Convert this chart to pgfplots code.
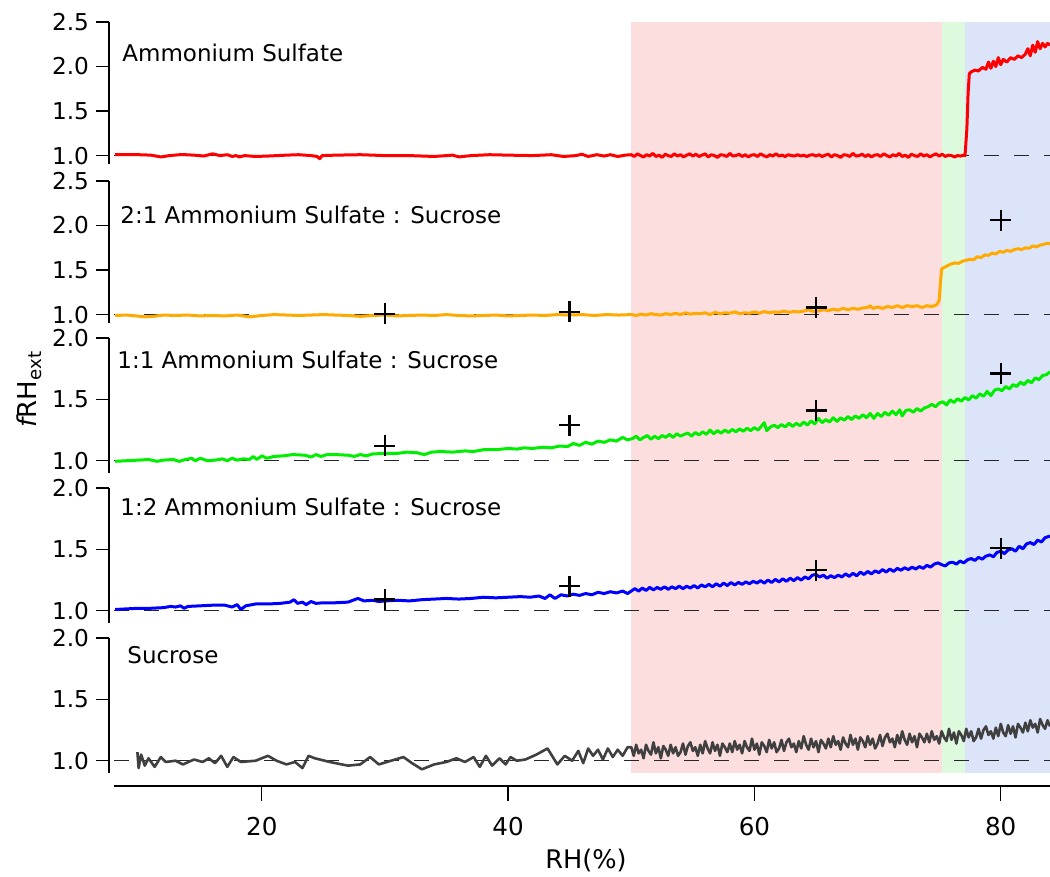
\documentclass[border=0pt]{standalone}
\usepackage{fontspec}
\setmainfont{DejaVu Sans}
\usepackage{pgfplots}
\pgfplotsset{compat=1.18}

\definecolor{shadeA}{RGB}{253,222,222}
\definecolor{shadeB}{RGB}{222,250,222}
\definecolor{shadeC}{RGB}{220,228,249}
\definecolor{cAS}{RGB}{255,0,0}
\definecolor{cTwoOne}{RGB}{255,170,0}
\definecolor{cOneOne}{RGB}{0,238,0}
\definecolor{cOneTwo}{RGB}{0,0,255}
\definecolor{cSuc}{RGB}{64,64,64}

\newcommand{\ytickfont}{\fontsize{11.6}{14}\selectfont}

\pgfplotsset{
  panel/.style={scale only axis, width=468pt, xmin=8, xmax=84, ymin=0.9,
    axis x line=none, axis y line=left, axis y line shift=2.5pt,
    axis line style={-, line width=0.7pt},
    tick align=outside, major tick length=6.5pt,
    tick style={line width=0.7pt, black},
    tick label style={font=\ytickfont},
  },
  tall/.style={height=71.25pt, ymax=2.5, ytick={1,1.5,2,2.5},
    yticklabels={{\ytickfont 1.0},{\ytickfont 1.5},{\ytickfont 2.0},{\ytickfont 2.5}}},
  short/.style={height=67.5pt, ymax=2.0, ytick={1,1.5,2},
    yticklabels={{\ytickfont 1.0},{\ytickfont 1.5},{\ytickfont 2.0}}},
  unity/.style={black!85, line width=0.6pt, dash pattern=on 7.5pt off 7.5pt, forget plot},
  trace/.style={line width=1.5pt, line join=round, no marks},
  model/.style={only marks, mark=+, mark size=5.25pt, mark options={line width=1.2pt, black}},
}

\begin{document}
\begin{tikzpicture}
\path[use as bounding box] (0,0) rectangle (525pt,-438.5pt);

% shared RH axis with the deliquescence regions behind all panels
\begin{axis}[scale only axis, width=468pt, height=382pt, at={(57pt,-393pt)}, anchor=south west,
  xmin=8, xmax=84, ymin=-13, ymax=751,
  axis x line=bottom, axis y line=none, axis line style={-, line width=0.7pt},
  tick align=outside, major tick length=7.5pt, tick style={line width=0.7pt, black},
  xtick={20,40,60,80}, xticklabels={\mbox{20},\mbox{40},\mbox{60},\mbox{80}}, ytick=\empty,
  xticklabel style={font=\fontsize{12.3}{15}\selectfont, yshift=-4.5pt}]
\addplot[draw=none, fill=shadeA] coordinates {(50,0) (75.2,0) (75.2,751) (50,751)} -- cycle;
\addplot[draw=none, fill=shadeB] coordinates {(75.2,0) (77.1,0) (77.1,751) (75.2,751)} -- cycle;
\addplot[draw=none, fill=shadeC] coordinates {(77.1,0) (84,0) (84,751) (77.1,751)} -- cycle;
\end{axis}

% Ammonium sulfate
\begin{axis}[panel, tall, at={(57pt,-82.25pt)}, anchor=south west]
\addplot[unity] coordinates {(8,1) (84,1)};
\addplot[trace, cAS] coordinates {
(8.1,1.01)(9,1.012)(10,1.01)(11,1.005)(11.8,0.985)(12.5,1.0)(13.5,1.012)(14.5,1.005)(15.3,0.995)(16,1.02)(16.6,1.0)(17.2,1.01)(17.6,0.99)(17.9,1.0)(18.2,0.985)(18.6,1.0)(19.5,0.99)(20.5,0.995)(22,1.005)(23,1.01)(24,1.0)(24.5,0.99)(24.7,0.965)(24.9,1.0)(26,1.005)(28,1.01)(30,1.0)(32,1.0)(34,0.99)(35.5,1.005)(36,0.985)(37,1.0)(38.5,1.01)(40,1.005)(42,1.0)(43.5,1.01)(44.5,0.99)(45.5,1.0)(46,1.015)(46.5,0.99)(47.2,1.01)(47.8,0.995)(48.3,1.01)(48.9,0.99)(49.5,1.005)
(50.0,1.01)(50.25,0.99)(50.5,1.02)(50.75,1.0)(51.0,0.985)(51.25,1.01)(51.5,0.995)(51.75,1.025)(52.0,0.99)(52.25,1.005)(52.5,0.98)(52.75,1.015)(53.0,1.0)(53.25,0.99)(53.5,1.02)(53.75,0.995)(54.0,1.01)(54.25,0.985)(54.5,1.005)(54.75,1.02)
(55.0,0.995)(55.25,1.015)(55.5,0.99)(55.75,1.005)(56.0,1.02)(56.25,0.985)(56.5,1.01)(56.75,1.0)(57.0,0.98)(57.25,1.01)(57.5,1.005)(57.75,0.99)(58.0,1.025)(58.25,0.995)(58.5,1.0)(58.75,1.015)(59.0,0.99)(59.25,1.01)(59.5,0.985)(59.75,1.005)
(60.0,1.01)(60.25,0.99)(60.5,1.02)(60.75,1.0)(61.0,0.985)(61.25,1.01)(61.5,0.995)(61.75,1.02)(62.0,0.995)(62.25,1.005)(62.5,0.99)(62.75,1.01)(63.0,1.0)(63.25,0.995)(63.5,1.01)(63.75,0.995)(64.0,1.005)(64.25,0.99)(64.5,1.005)(64.75,1.01)
(65.0,0.995)(65.25,1.01)(65.5,0.99)(65.75,1.005)(66.0,1.015)(66.25,0.985)(66.5,1.01)(66.75,1.0)(67.0,0.98)(67.25,1.01)(67.5,1.005)(67.75,0.99)(68.0,1.025)(68.25,0.995)(68.5,1.0)(68.75,1.015)(69.0,0.99)(69.25,1.01)(69.5,0.985)(69.75,1.005)
(70.0,1.01)(70.25,0.99)(70.5,1.02)(70.75,1.0)(71.0,0.985)(71.25,1.01)(71.5,0.995)(71.75,1.025)(72.0,0.99)(72.25,1.005)(72.5,0.98)(72.75,1.015)(73.0,1.0)(73.25,0.99)(73.5,1.02)(73.75,0.995)(74.0,1.01)(74.25,0.985)(74.5,1.005)(74.75,1.02)
(75.0,0.995)(75.25,1.015)(75.5,0.99)(75.75,1.005)(76.0,1.0)(76.25,0.985)(76.5,1.0)(76.75,0.995)(77.0,1.005)(77.1,1.0)
(77.25,1.3)(77.35,1.7)(77.45,1.92)(77.6,1.94)(77.9,1.96)(78.2,1.95)(78.5,1.99)(78.8,1.97)(79.0,2.05)(79.2,1.98)(79.4,2.06)(79.6,2.0)(79.8,2.1)(80.0,2.02)(80.2,2.08)(80.5,2.05)(80.8,2.1)(81.1,2.08)(81.4,2.12)(81.7,2.1)(82.0,2.14)(82.2,2.2)(82.4,2.12)(82.6,2.24)(82.8,2.16)(83.0,2.28)(83.2,2.2)(83.4,2.26)(83.6,2.22)(83.8,2.26)(84.0,2.24)};
\end{axis}

% 2:1 ammonium sulfate : sucrose
\begin{axis}[panel, tall, at={(57pt,-161.75pt)}, anchor=south west]
\addplot[unity] coordinates {(8,1) (84,1)};
\addplot[trace, cTwoOne] coordinates {
(8.1,0.99)(9,0.995)(9.8,0.985)(10.5,0.975)(11.2,0.98)(12,0.995)(13,0.99)(14,0.995)(15,0.985)(16,0.99)(17,0.985)(18,0.995)(19,0.975)(20,0.99)(21,1.0)(22,0.995)(23,0.99)(24,0.995)(25,1.0)(26,0.995)(27,0.99)(28,0.98)(29,0.99)(30,0.995)(31,0.985)(32,0.99)(33,0.995)(34,0.99)(35,1.0)(36,0.99)(37,0.985)(38,0.99)(39,0.995)(40,0.985)(41,0.99)(42,0.995)(43,0.99)(44,1.0)(45,0.995)(46,1.0)(47,0.99)(48,1.0)(49,0.995)
(50.0,1.0)(50.4,0.99)(50.8,1.005)(51.2,0.995)(51.6,1.01)(52.0,1.0)(52.4,0.995)(52.8,1.01)(53.2,1.0)(53.6,1.015)(54.0,1.0)(54.4,1.02)(54.8,1.005)(55.2,1.015)(55.6,1.01)(56.0,1.02)(56.4,1.0)(56.8,1.025)(57.2,1.01)(57.6,1.02)(58.0,1.015)(58.4,1.03)(58.8,1.01)(59.2,1.02)(59.6,1.015)(60.0,1.03)(60.4,1.015)(60.8,1.035)(61.2,1.02)(61.6,1.03)(62.0,1.025)(62.4,1.04)(62.8,1.025)(63.2,1.035)(63.6,1.03)(64.0,1.04)(64.4,1.055)(64.8,1.035)(65.2,1.04)(65.6,1.055)(66.0,1.045)(66.4,1.06)(66.8,1.05)(67.2,1.07)(67.6,1.055)(68.0,1.07)(68.4,1.06)(68.8,1.075)(69.2,1.08)(69.4,1.1)(69.6,1.07)(70.0,1.085)(70.4,1.07)(70.8,1.09)(71.2,1.08)(71.6,1.1)(72.0,1.08)(72.4,1.1)(72.8,1.09)(73.2,1.1)(73.6,1.08)(74.0,1.1)(74.4,1.09)(74.8,1.11)(75.0,1.16)(75.1,1.35)(75.2,1.51)(75.4,1.53)(75.7,1.55)(76.0,1.57)(76.3,1.58)(76.6,1.575)(76.9,1.6)(77.2,1.61)(77.5,1.62)(77.8,1.615)(78.1,1.65)(78.4,1.64)(78.7,1.67)(79.0,1.665)(79.3,1.69)(79.6,1.68)(79.9,1.71)(80.2,1.7)(80.5,1.72)(80.8,1.71)(81.1,1.73)(81.4,1.74)(81.7,1.73)(82.0,1.75)(82.3,1.745)(82.6,1.77)(82.9,1.76)(83.2,1.78)(83.5,1.79)(83.8,1.8)(84.0,1.795)};
\addplot[model] coordinates {(30,1.01) (45,1.03) (65,1.08) (80,2.06)};
\end{axis}

% 1:1 ammonium sulfate : sucrose
\begin{axis}[panel, short, at={(57pt,-236.5pt)}, anchor=south west]
\addplot[unity] coordinates {(8,1) (84,1)};
\addplot[trace, cOneOne] coordinates {
(8.1,0.995)(9,1.0)(10,1.005)(10.8,1.01)(11.5,0.995)(12,1.005)(12.8,1.01)(13.3,0.995)(13.8,1.01)(14.3,1.02)(14.6,1.0)(15,1.02)(15.6,1.0)(16.2,1.005)(16.8,1.015)(17.2,1.0)(17.6,1.02)(18,1.005)(18.5,1.015)(19,1.01)(19.3,1.035)(19.6,1.01)(20,1.04)(20.4,1.02)(21,1.035)(21.8,1.04)(22.5,1.05)(23.5,1.045)(24,1.03)(24.4,1.05)(24.8,1.035)(25.3,1.05)(26,1.05)(27,1.045)(27.5,1.035)(28,1.05)(28.5,1.04)(29,1.055)(30,1.06)(31,1.06)(31.8,1.07)(32.6,1.065)(33.2,1.05)(33.8,1.07)(34.5,1.075)(35.5,1.07)(36.5,1.08)(37.2,1.075)(38,1.09)(39,1.09)(40,1.1)(40.7,1.095)(41.3,1.105)(42,1.1)(42.8,1.11)(43.5,1.105)(44.2,1.12)(44.8,1.115)(45.3,1.14)(45.8,1.125)(46.3,1.15)(46.8,1.135)(47.3,1.16)(47.8,1.15)(48.3,1.17)(48.8,1.16)(49.3,1.19)(49.7,1.17)
(50.1,1.18)(50.4,1.2)(50.7,1.17)(51.0,1.19)(51.3,1.205)(51.6,1.175)(51.9,1.2)(52.2,1.18)(52.5,1.205)(52.8,1.19)(53.1,1.215)(53.4,1.19)(53.7,1.22)(54.0,1.2)(54.3,1.215)(54.6,1.225)(54.9,1.2)(55.2,1.23)(55.5,1.21)(55.8,1.235)(56.1,1.215)(56.4,1.25)(56.7,1.22)(57.0,1.245)(57.3,1.225)(57.6,1.25)(57.9,1.23)(58.2,1.255)(58.5,1.235)(58.8,1.26)(59.1,1.24)(59.4,1.265)(59.7,1.245)(60.0,1.27)(60.3,1.25)(60.6,1.285)(60.8,1.31)(61.0,1.245)(61.3,1.275)(61.6,1.29)(61.9,1.27)(62.2,1.295)(62.5,1.275)(62.8,1.305)(63.1,1.28)(63.4,1.305)(63.7,1.285)(64.0,1.315)(64.3,1.29)(64.6,1.325)(64.9,1.3)(65.2,1.345)(65.5,1.31)(65.8,1.335)(66.1,1.315)(66.4,1.35)(66.7,1.32)(67.0,1.35)(67.3,1.33)(67.6,1.36)(67.9,1.335)(68.2,1.365)(68.5,1.345)(68.8,1.375)(69.1,1.35)(69.4,1.385)(69.7,1.345)(70.0,1.385)(70.3,1.36)(70.6,1.395)(70.9,1.37)(71.2,1.405)(71.5,1.375)(71.8,1.415)(72.0,1.365)(72.3,1.41)(72.6,1.415)(72.9,1.395)(73.2,1.425)(73.5,1.405)(73.8,1.43)
(74.1,1.44)(74.4,1.46)(74.7,1.44)(75.0,1.47)(75.3,1.48)(75.6,1.455)(75.9,1.495)(76.2,1.475)(76.5,1.505)(76.8,1.485)(77.1,1.515)(77.4,1.495)(77.7,1.53)(78.0,1.51)(78.3,1.545)(78.6,1.525)(78.9,1.565)(79.2,1.53)(79.5,1.575)(79.8,1.585)(80.1,1.57)(80.4,1.605)(80.7,1.585)(81.0,1.62)(81.3,1.605)(81.6,1.64)(81.9,1.62)(82.2,1.655)(82.5,1.635)(82.8,1.675)(83.1,1.66)(83.4,1.695)(83.7,1.7)(84.0,1.725)};
\addplot[model] coordinates {(30,1.12) (45,1.29) (65,1.41) (80,1.71)};
\end{axis}

% 1:2 ammonium sulfate : sucrose
\begin{axis}[panel, short, at={(57pt,-311.5pt)}, anchor=south west]
\addplot[unity] coordinates {(8,1) (84,1)};
\addplot[trace, cOneTwo] coordinates {
(8.1,1.01)(9,1.015)(10,1.02)(11,1.02)(12,1.025)(12.6,1.035)(13,1.03)(13.4,1.04)(13.7,1.02)(14,1.035)(15,1.04)(16,1.045)(17,1.045)(17.6,1.03)(18,1.05)(18.3,1.01)(18.7,1.04)(19.5,1.055)(20.5,1.055)(21.5,1.06)(22.3,1.07)(22.6,1.09)(22.9,1.06)(23.3,1.07)(23.6,1.05)(24,1.075)(24.4,1.06)(25,1.065)(26,1.065)(27,1.07)(27.8,1.1)(28.3,1.08)(29,1.085)(29.5,1.075)(30,1.08)(31,1.085)(32,1.08)(33,1.09)(34,1.095)(35,1.1)(36,1.095)(37,1.1)(38,1.11)(39,1.105)(40,1.11)(41,1.115)(41.8,1.11)(42.5,1.12)(43,1.1)(43.4,1.13)(43.8,1.1)(44.3,1.13)(44.8,1.12)(45.3,1.135)(45.8,1.125)(46.3,1.14)(46.8,1.13)(47.3,1.15)(47.8,1.14)(48.3,1.155)(48.8,1.145)(49.3,1.16)(49.7,1.14)
(50.0,1.16)(50.3,1.18)(50.6,1.16)(50.9,1.185)(51.2,1.165)(51.5,1.19)(51.8,1.17)(52.1,1.19)(52.4,1.175)(52.7,1.195)(53.0,1.175)(53.3,1.195)(53.6,1.18)(53.9,1.2)(54.2,1.18)(54.5,1.2)(54.8,1.185)(55.1,1.205)(55.4,1.185)(55.7,1.21)(56.0,1.195)(56.3,1.215)(56.6,1.195)(56.9,1.22)(57.2,1.2)(57.5,1.225)(57.8,1.205)(58.1,1.23)(58.4,1.21)(58.7,1.23)(59.0,1.215)(59.3,1.235)(59.6,1.22)(59.9,1.24)(60.2,1.225)(60.5,1.245)(60.8,1.225)(61.1,1.25)(61.4,1.23)(61.7,1.255)(62.0,1.235)(62.3,1.26)(62.6,1.24)(62.9,1.265)(63.2,1.245)(63.5,1.27)(63.8,1.25)(64.1,1.275)(64.4,1.26)(64.7,1.29)(65.0,1.295)(65.3,1.275)(65.6,1.29)(65.9,1.265)(66.2,1.285)(66.5,1.27)(66.8,1.29)(67.1,1.275)(67.4,1.3)(67.7,1.28)(68.0,1.305)(68.3,1.285)(68.6,1.315)(68.9,1.295)(69.2,1.32)(69.5,1.3)(69.8,1.325)(70.1,1.31)(70.4,1.335)(70.7,1.315)(71.0,1.34)(71.3,1.32)(71.6,1.345)(71.9,1.33)(72.2,1.35)(72.5,1.335)(72.8,1.355)(73.1,1.34)(73.4,1.36)(73.7,1.345)(74.0,1.37)(74.3,1.355)(74.6,1.38)(74.9,1.39)(75.2,1.375)(75.5,1.365)(75.8,1.39)(76.1,1.395)(76.4,1.38)(76.7,1.405)(77.0,1.39)(77.3,1.415)(77.6,1.425)(77.9,1.41)(78.2,1.435)(78.5,1.42)(78.8,1.445)(79.1,1.455)(79.4,1.44)(79.7,1.475)(80.0,1.485)(80.3,1.465)(80.6,1.495)(80.9,1.505)(81.2,1.485)(81.5,1.525)(81.8,1.505)(82.1,1.545)(82.4,1.555)(82.7,1.54)(83.0,1.575)(83.3,1.56)(83.6,1.595)(83.9,1.605)(84.0,1.61)};
\addplot[model] coordinates {(30,1.09) (45,1.2) (65,1.33) (80,1.51)};
\end{axis}

% sucrose
\begin{axis}[panel, short, at={(57pt,-386.5pt)}, anchor=south west]
\addplot[unity] coordinates {(8,1) (84,1)};
\addplot[trace, cSuc, line width=1.3pt] coordinates {
(9.9,1.07)(10.0,0.94)(10.2,1.05)(10.5,0.96)(10.8,1.02)(11.3,0.95)(11.8,1.03)(12.2,0.99)(13,1.0)(13.6,0.97)(14.5,1.01)(15.2,0.99)(15.7,1.02)(16.2,0.98)(16.7,1.04)(17.2,0.95)(17.7,1.03)(18.3,0.99)(19.5,1.0)(20.5,1.04)(21.2,1.0)(22,0.97)(22.7,0.99)(23.3,0.94)(23.8,1.04)(24.3,1.02)(25.5,0.99)(27,0.96)(28,0.97)(28.8,1.03)(29.5,0.97)(30.5,1.0)(31.5,1.03)(32.2,0.98)(33,0.93)(34,0.97)(35,0.99)(35.8,1.02)(36.5,0.99)(37.2,1.03)(37.7,0.95)(38.2,1.04)(38.7,0.96)(39.3,1.02)(39.8,0.97)(40.2,1.03)(40.7,1.0)(41.4,1.01)(42.3,1.05)(43.2,1.1)(44.0,0.97)(44.6,1.04)(45.2,1.0)(45.7,1.08)(46.1,0.98)(46.5,1.1)(46.9,1.04)(47.3,1.09)(47.7,1.01)(48.1,1.1)(48.5,1.03)(48.9,1.09)(49.3,1.04)(49.7,1.11)
(50.0,1.11)(50.2,1.04)(50.4,1.13)(50.6,1.06)(50.8,1.09)(51.0,1.02)(51.2,1.13)(51.4,1.08)(51.6,1.05)(51.8,1.15)(52.0,1.06)(52.2,1.11)(52.4,1.02)(52.6,1.12)(52.8,1.09)(53.0,1.04)(53.2,1.13)(53.4,1.06)(53.6,1.11)(53.8,1.04)
(54.0,1.07)(54.2,1.14)(54.4,1.05)(54.6,1.12)(54.8,1.15)(55.0,1.08)(55.2,1.11)(55.4,1.04)(55.6,1.13)(55.8,1.06)(56.0,1.16)(56.2,1.10)(56.4,1.06)(56.6,1.15)(56.8,1.08)(57.0,1.13)(57.2,1.04)(57.4,1.14)(57.6,1.11)(57.8,1.07)
(58.0,1.14)(58.2,1.07)(58.4,1.16)(58.6,1.09)(58.8,1.13)(59.0,1.06)(59.2,1.16)(59.4,1.11)(59.6,1.08)(59.8,1.18)(60.0,1.09)(60.2,1.14)(60.4,1.05)(60.6,1.15)(60.8,1.12)(61.0,1.07)(61.2,1.17)(61.4,1.10)(61.6,1.15)(61.8,1.07)
(62.0,1.10)(62.2,1.17)(62.4,1.08)(62.6,1.15)(62.8,1.18)(63.0,1.11)(63.2,1.14)(63.4,1.07)(63.6,1.16)(63.8,1.10)(64.0,1.20)(64.2,1.13)(64.4,1.09)(64.6,1.18)(64.8,1.11)(65.0,1.16)(65.2,1.07)(65.4,1.17)(65.6,1.14)(65.8,1.10)
(66.0,1.18)(66.2,1.11)(66.4,1.20)(66.6,1.13)(66.8,1.16)(67.0,1.09)(67.2,1.19)(67.4,1.14)(67.6,1.11)(67.8,1.21)(68.0,1.13)(68.2,1.18)(68.4,1.09)(68.6,1.19)(68.8,1.16)(69.0,1.11)(69.2,1.20)(69.4,1.13)(69.6,1.18)(69.8,1.10)
(70.0,1.14)(70.2,1.21)(70.4,1.12)(70.6,1.19)(70.8,1.22)(71.0,1.15)(71.2,1.18)(71.4,1.11)(71.6,1.21)(71.8,1.14)(72.0,1.24)(72.2,1.17)(72.4,1.13)(72.6,1.22)(72.8,1.15)(73.0,1.20)(73.2,1.11)(73.4,1.22)(73.6,1.19)(73.8,1.15)
(74.0,1.22)(74.2,1.15)(74.4,1.24)(74.6,1.17)(74.8,1.20)(75.0,1.14)(75.2,1.24)(75.4,1.19)(75.6,1.16)(75.8,1.26)(76.0,1.17)(76.2,1.23)(76.4,1.14)(76.6,1.24)(76.8,1.21)(77.0,1.16)(77.2,1.26)(77.4,1.19)(77.6,1.24)(77.8,1.16)
(78.0,1.19)(78.2,1.26)(78.4,1.18)(78.6,1.25)(78.8,1.28)(79.0,1.21)(79.2,1.24)(79.4,1.18)(79.6,1.27)(79.8,1.20)(80.0,1.30)(80.2,1.23)(80.4,1.20)(80.6,1.29)(80.8,1.22)(81.0,1.28)(81.2,1.19)(81.4,1.30)(81.6,1.27)(81.8,1.23)
(82.0,1.31)(82.2,1.24)(82.4,1.33)(82.6,1.27)(82.8,1.30)(83.0,1.23)(83.2,1.34)(83.4,1.29)(83.6,1.26)(83.8,1.33)(84.0,1.28)};
\end{axis}

% panel titles and shared labels
\begin{scope}[every node/.style={anchor=west, inner sep=0pt, font=\fontsize{11.5}{14}\selectfont}]
\node at (61pt,-26.5pt) {Ammonium Sulfate};
\node at (60pt,-107.5pt) {2:1 Ammonium Sulfate : Sucrose};
\node at (58.5pt,-180pt) {1:1 Ammonium Sulfate : Sucrose};
\node at (60pt,-253.5pt) {1:2 Ammonium Sulfate : Sucrose};
\node at (63.5pt,-327.5pt) {Sucrose};
\end{scope}
\node[rotate=90, font=\fontsize{13}{15}\selectfont] at (14.5pt,-194.5pt) {{\itshape f}RH\textsubscript{ext}};
\node[font=\fontsize{12.8}{15}\selectfont] at (293pt,-430pt) {RH(\%)};
\end{tikzpicture}
\end{document}
